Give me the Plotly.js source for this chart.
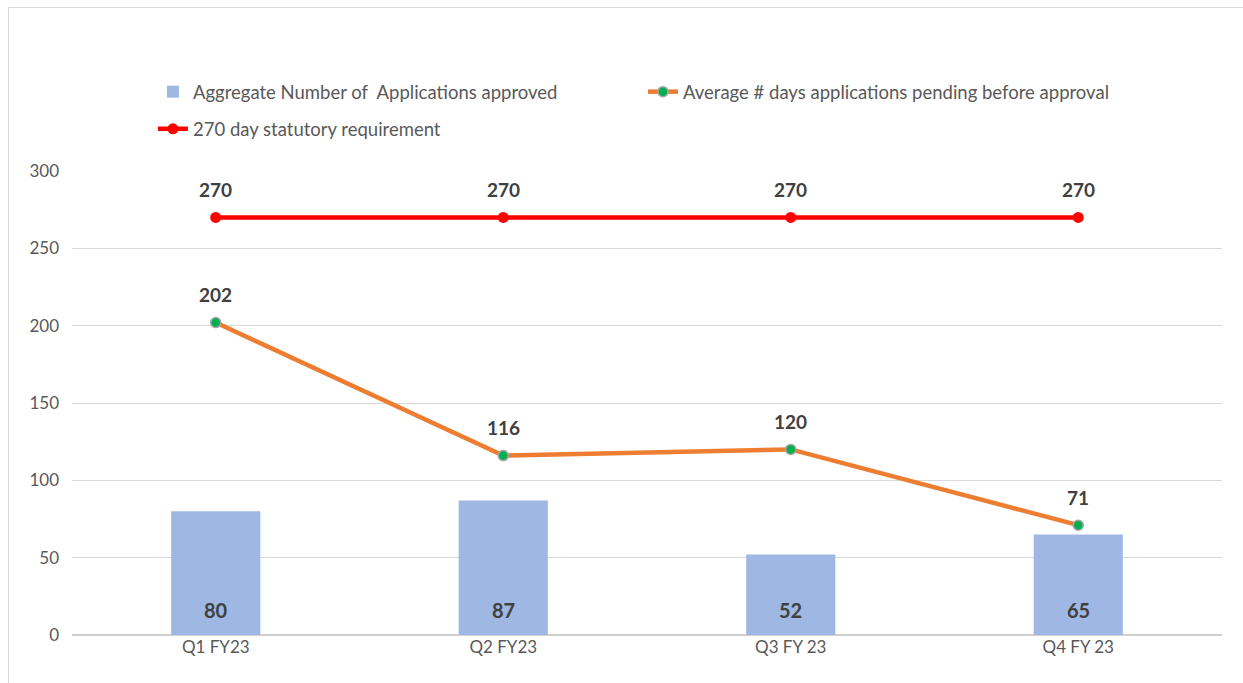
<!DOCTYPE html>
<html><head><meta charset="utf-8">
<script src="https://cdn.plot.ly/plotly-3.0.1.min.js"></script>
<style>
body{margin:0;background:#fff;}
#frame{position:absolute;left:8px;top:7px;width:1240px;height:680px;border:1px solid #d9d9d9;box-sizing:border-box;}
#chart{position:absolute;left:0;top:0;width:1243px;height:683px;}
</style></head>
<body><div id="frame"></div><div id="chart"></div>
<script>
const categories = ["Q1 FY23", "Q2 FY23", "Q3 FY 23", "Q4 FY 23"];
const approved = [80, 87, 52, 65];
const avgDays = [202, 116, 120, 71];
const statutory = [270, 270, 270, 270];
const yTicks = [0, 50, 100, 150, 200, 250, 300];

const font = "Lato, 'Open Sans', sans-serif";
const labelColor = "#404040";

const traces = [
  {type:"bar", x:categories, y:approved, name:"Aggregate Number of  Applications approved",
   width:0.31, marker:{color:"#9fb7e3"}, hoverinfo:"skip", legend:"legend"},
  {type:"scatter", mode:"lines+markers", x:categories, y:avgDays,
   name:"Average # days applications pending before approval",
   line:{color:"#ED7D31", width:4.5}, legend:"legend",
   marker:{color:"#00B050", size:10, line:{color:"#a5a5a5", width:1.5}}},
  {type:"scatter", mode:"lines+markers", x:categories, y:statutory,
   name:"270 day statutory requirement", legend:"legend2",
   line:{color:"#FF0000", width:4.5},
   marker:{color:"#FF0000", size:11}}
];

const annotations = [];
categories.forEach((c,i)=>{
  annotations.push({x:c, xref:"x", yref:"y", text:"<b>"+approved[i]+"</b>", showarrow:false, y:0, yshift:25, font:{size:20, color:labelColor, family:font}});
  annotations.push({x:c, y:avgDays[i], xref:"x", yref:"y", text:"<b>"+avgDays[i]+"</b>", showarrow:false, yshift:28, font:{size:19, color:labelColor, family:font}});
  annotations.push({x:c, y:statutory[i], xref:"x", yref:"y", text:"<b>"+statutory[i]+"</b>", showarrow:false, yshift:28, font:{size:19, color:labelColor, family:font}});
});

const legFont = {size:18.5, color:"#595959", family:font};
const layout = {
  width:1243, height:683,
  margin:{l:72, r:21, t:171, b:48, autoexpand:false},
  paper_bgcolor:"rgba(0,0,0,0)", plot_bgcolor:"rgba(0,0,0,0)",
  font:{family:font, color:"#595959", size:17},
  showlegend:true,
  legend:{orientation:"h", x:0.0704, xanchor:"left", y:1.17, yanchor:"middle",
          entrywidth:445, font:legFont, traceorder:"normal"},
  legend2:{orientation:"h", x:0.0704, xanchor:"left", y:1.09, yanchor:"middle",
          font:legFont},
  xaxis:{type:"category", range:[-0.5,3.5], showgrid:false, zeroline:false, showline:false,
         ticks:"", tickfont:{size:17, color:"#595959"}},
  yaxis:{range:[0,300], tickvals:yTicks, showgrid:true, gridcolor:"#d9d9d9", gridwidth:1,
         zeroline:true, zerolinecolor:"#d0d0d0", zerolinewidth:1.5, showline:false,
         ticks:"", ticklabelstandoff:12, tickfont:{size:17, color:"#595959"}},
  annotations:annotations,
  bargap:0.69
};
Plotly.newPlot("chart", traces, layout, {displayModeBar:false, staticPlot:true});
</script></body></html>
